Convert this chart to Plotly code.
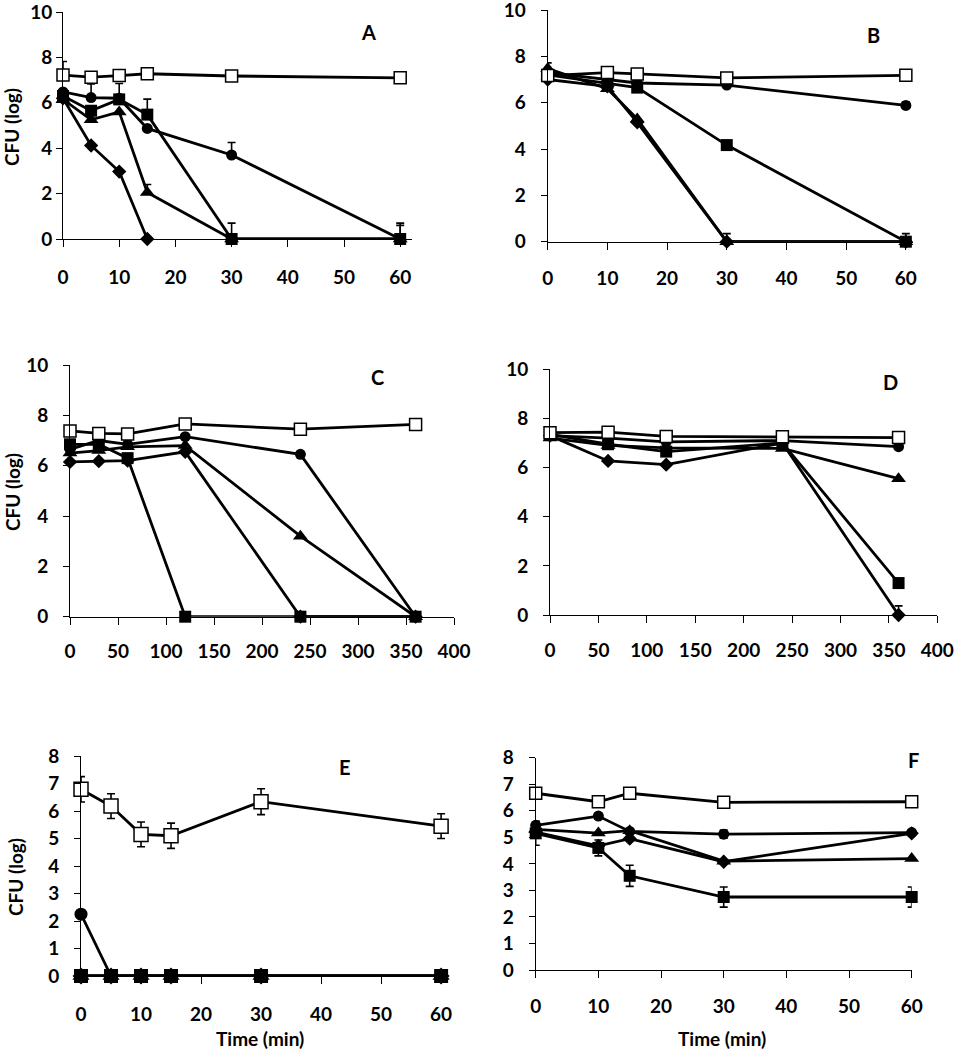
import plotly.graph_objects as go

# ---------------- data ----------------
A_time = [0, 5, 10, 15, 30, 60]
A_ctrl = [7.22, 7.13, 7.20, 7.28, 7.18, 7.10]
A_ctrl_err = [0.6, 0, 0, 0, 0, 0]
A_circle = [6.48, 6.23, 6.20, 4.87, 3.70, 0]
A_circle_err = [0, 0.6, 0, 0, 0.55, 0.6]
A_square = [6.30, 5.65, 6.15, 5.48, 0, 0]
A_square_err = [0, 0, 0.7, 0.68, 0.7, 0.7]
A_tri = [6.15, 5.25, 5.60, 2.05, 0, 0]
A_tri_err = [0, 0, 0, 0.35, 0, 0]
A_dia = [6.20, 4.12, 2.97, 0, 0, 0]

B_time = [0, 10, 15, 30, 60]
B_ctrl = [7.17, 7.30, 7.24, 7.07, 7.18]
B_circle = [7.30, 7.00, 6.85, 6.76, 5.88]
B_circle_err = [0, 0, 0, 0.1, 0.15]
B_square = [7.20, 6.85, 6.65, 4.17, 0]
B_square_err = [0, 0, 0, 0.1, 0.35]
B_tri = [7.47, 6.60, 5.30, 0, 0]
B_tri_err = [0.25, 0, 0, 0.35, 0]
B_dia = [7.00, 6.70, 5.15, 0, 0]

C_time = [0, 30, 60, 120, 240, 360]
C_ctrl = [7.38, 7.28, 7.26, 7.66, 7.45, 7.64]
C_circle = [6.65, 7.00, 6.85, 7.15, 6.45, 0]
C_square = [6.85, 6.85, 6.30, 0, 0, 0]
C_tri = [6.50, 6.60, 6.75, 6.80, 3.20, 0]
C_dia = [6.15, 6.18, 6.20, 6.55, 0, 0]

D_time = [0, 60, 120, 240, 360]
D_ctrl = [7.42, 7.44, 7.27, 7.25, 7.22]
D_circle = [7.30, 7.20, 7.05, 7.10, 6.85]
D_square = [7.35, 6.95, 6.65, 7.00, 1.30]
D_tri = [7.20, 6.90, 6.80, 6.78, 5.55]
D_dia = [7.30, 6.27, 6.12, 7.00, 0]
D_dia_err = [0, 0, 0, 0, 0.37]

E_time = [0, 5, 10, 15, 30, 60]
E_ctrl = [6.79, 6.18, 5.15, 5.10, 6.34, 5.45]
E_ctrl_err = [0.46, 0.45, 0.45, 0.46, 0.47, 0.45]
E_circle = [2.25, 0, 0, 0, 0, 0]
E_square = [0, 0, 0, 0, 0, 0]
E_tri = [0, 0, 0, 0, 0, 0]
E_dia = [0, 0, 0, 0, 0, 0]

F_time = [0, 10, 15, 30, 60]
F_ctrl = [6.66, 6.34, 6.66, 6.32, 6.34]
F_ctrl_err = [0.1, 0.1, 0.1, 0.1, 0.1]
F_circle = [5.45, 5.80, 5.22, 5.12, 5.18]
F_circle_err = [0.15, 0.1, 0.1, 0.15, 0.1]
F_square = [5.15, 4.60, 3.55, 2.75, 2.75]
F_square_err = [0.45, 0.3, 0.4, 0.38, 0.38]
F_tri = [5.30, 5.16, 5.25, 4.10, 4.20]
F_dia = [5.20, 4.68, 4.95, 4.08, 5.15]

panel_labels = ["A", "B", "C", "D", "E", "F"]
y_title = "CFU (log)"
x_title = "Time (min)"

# ---------------- style ----------------
W, H = 954, 1050
FONT = dict(family="Lato, 'Open Sans', Arial", size=19, color="black", weight="bold")
LINE_W = 2.8


def px2x(p):
    return p / W


def px2y(p):
    return 1 - p / H


MARK = {
    "dia": dict(symbol="diamond", size=11, color="black"),
    "tri": dict(symbol="triangle-up", size=13, color="black"),
    "circle": dict(symbol="circle", size=11, color="black"),
    "square": dict(symbol="square", size=12, color="black"),
    "ctrl": dict(symbol="square", size=12, color="white", line=dict(color="black", width=1.5)),
}

fig = go.Figure()


def add_series(n, x, y, kind, up=None, down=None, big=False):
    m = dict(MARK[kind])
    if big:
        m["size"] = m["size"] + 2
    err = None
    if up is not None:
        err = dict(type="data", array=up, arrayminus=down if down is not None else [0] * len(up),
                   symmetric=False, color="black", thickness=1.6, width=4)
    suffix = "" if n == 1 else str(n)
    fig.add_trace(go.Scatter(
        x=x, y=y, mode="lines+markers", marker=m,
        line=dict(color="black", width=LINE_W),
        error_y=err, cliponaxis=False, showlegend=False, hoverinfo="x+y",
        xaxis="x" + suffix, yaxis="y" + suffix,
    ))


# Panel A
add_series(1, A_time[:4], A_dia[:4], "dia")
add_series(1, A_time, A_tri, "tri", A_tri_err)
add_series(1, A_time, A_circle, "circle", A_circle_err)
add_series(1, A_time, A_square, "square", A_square_err)
add_series(1, A_time, A_ctrl, "ctrl", A_ctrl_err)
# Panel B
add_series(2, B_time, B_dia, "dia")
add_series(2, B_time, B_tri, "tri", B_tri_err)
add_series(2, B_time, B_circle, "circle", B_circle_err)
add_series(2, B_time, B_square, "square", B_square_err)
add_series(2, B_time, B_ctrl, "ctrl")
# Panel C
add_series(3, C_time, C_dia, "dia")
add_series(3, C_time, C_tri, "tri")
add_series(3, C_time, C_circle, "circle")
add_series(3, C_time, C_square, "square")
add_series(3, C_time, C_ctrl, "ctrl")
# Panel D
add_series(4, D_time, D_dia, "dia", D_dia_err)
add_series(4, D_time, D_tri, "tri")
add_series(4, D_time, D_circle, "circle")
add_series(4, D_time, D_square, "square")
add_series(4, D_time, D_ctrl, "ctrl")
# Panel E
add_series(5, E_time, E_dia, "dia", big=True)
add_series(5, E_time, E_tri, "tri", big=True)
add_series(5, E_time, E_circle, "circle", big=True)
add_series(5, E_time, E_square, "square", big=True)
add_series(5, E_time, E_ctrl, "ctrl", E_ctrl_err, E_ctrl_err, big=True)
# Panel F
add_series(6, F_time, F_dia, "dia")
add_series(6, F_time, F_tri, "tri")
add_series(6, F_time, F_circle, "circle", F_circle_err, F_circle_err)
add_series(6, F_time, F_square, "square", F_square_err, F_square_err)
add_series(6, F_time, F_ctrl, "ctrl", F_ctrl_err, F_ctrl_err)

# axes geometry in pixels:
# (x0px, x1px, y_bottom_px, y_top_px, xrange, xdtick, yrange, ydtick, ystandoff, xstandoff)
geom = {
    1: (63, 412, 239, 12, [0, 62.1], 10, [0, 10], 2, 0, 14),
    2: (547.7, 913, 241.7, 10, [0, 61.2], 10, [0, 10], 2, 11, 12),
    3: (70, 454, 616.7, 365, [0, 400], 50, [0, 10], 2, 11, 10),
    4: (550, 937.3, 615, 369.3, [0, 400], 50, [0, 10], 2, 11, 11),
    5: (81, 448.3, 976, 756, [0, 61.2], 10, [0, 8], 1, 11, 14),
    6: (535.7, 911.7, 970, 757.7, [0, 60], 10, [0, 8], 1, 11, 12),
}

layout = dict(
    width=W, height=H, margin=dict(l=0, r=0, t=0, b=0, pad=0, autoexpand=False),
    paper_bgcolor="white", plot_bgcolor="white", showlegend=False,
    font=FONT,
)
for n, (x0, x1, yb, yt, xr, xd, yr, yd, ys, xs) in geom.items():
    s = "" if n == 1 else str(n)
    layout["xaxis" + s] = dict(
        domain=[px2x(x0), px2x(x1)], range=xr, tick0=0, dtick=xd, anchor="y" + s,
        showline=True, linecolor="black", linewidth=1, ticks="outside", ticklen=7,
        tickcolor="black", tickwidth=1, showgrid=False, zeroline=False,
        ticklabelstandoff=xs, ticklabeloverflow="allow", tickfont=FONT,
        fixedrange=True, automargin=False,
    )
    layout["yaxis" + s] = dict(
        domain=[px2y(yb), px2y(yt)], range=yr, tick0=0, dtick=yd, anchor="x" + s,
        showline=True, linecolor="black", linewidth=1, ticks="outside", ticklen=6,
        tickcolor="black", tickwidth=1, showgrid=False, zeroline=False,
        ticklabelstandoff=ys, ticklabeloverflow="allow", tickfont=FONT,
        fixedrange=True, automargin=False,
    )

label_pos = [(368, 32), (873, 35), (377, 377), (890, 382), (345, 767), (913, 760)]
ann = []
for lab, (lx, ly) in zip(panel_labels, label_pos):
    ann.append(dict(text=lab, x=px2x(lx), y=px2y(ly), xref="paper", yref="paper",
                    xanchor="center", yanchor="middle",
                    showarrow=False, font=dict(FONT, size=20)))
for (tx, ty) in [(12, 127), (12, 492), (15, 877)]:
    ann.append(dict(text=y_title, x=px2x(tx), y=px2y(ty), xref="paper", yref="paper",
                    xanchor="center", yanchor="middle",
                    showarrow=False, textangle=-90, font=FONT))
for (tx, ty) in [(260, 1038), (722, 1038)]:
    ann.append(dict(text=x_title, x=px2x(tx), y=px2y(ty), xref="paper", yref="paper",
                    xanchor="center", yanchor="middle",
                    showarrow=False, font=FONT))
layout["annotations"] = ann

fig.update_layout(**layout)
fig.write_html(
    "out.html",
    config={"displayModeBar": False},
    post_script="document.body.style.margin='0';document.body.style.overflow='hidden';",
)
